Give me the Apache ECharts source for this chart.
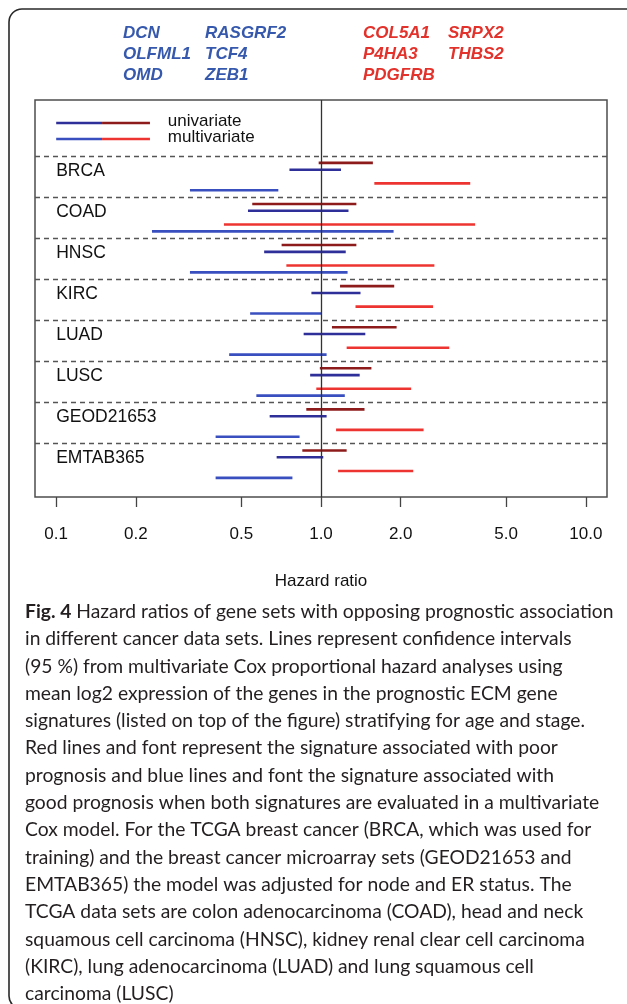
<!DOCTYPE html>
<html>
<head>
<meta charset="utf-8">
<script src="https://cdn.jsdelivr.net/npm/echarts@6/dist/echarts.min.js"></script>
<style>
  html, body { margin: 0; padding: 0; background: #ffffff; }
  #chart { width: 627px; height: 1004px; }
</style>
</head>
<body>
<div id="chart"></div>
<script>
// Cancer data sets, top to bottom
const datasets = ['BRCA', 'COAD', 'HNSC', 'KIRC', 'LUAD', 'LUSC', 'GEOD21653', 'EMTAB365'];

// 95 % confidence intervals of the hazard ratio, [lower, upper]
const uniPoor   = [[0.98, 1.57], [0.55, 1.36], [0.71, 1.36], [1.18, 1.89], [1.10, 1.93], [0.99, 1.55], [0.88, 1.46], [0.85, 1.25]];
const uniGood   = [[0.76, 1.19], [0.53, 1.27], [0.61, 1.24], [0.92, 1.41], [0.86, 1.47], [0.91, 1.40], [0.64, 1.05], [0.68, 1.02]];
const multiPoor = [[1.59, 3.66], [0.43, 3.82], [0.74, 2.68], [1.35, 2.65], [1.25, 3.05], [0.96, 2.19], [1.14, 2.44], [1.16, 2.23]];
const multiGood = [[0.32, 0.69], [0.23, 1.88], [0.32, 1.26], [0.54, 1.00], [0.45, 1.05], [0.57, 1.23], [0.40, 0.83], [0.40, 0.78]];

// Hazard-ratio axis ticks
const tickValues = [0.1, 0.2, 0.5, 1, 2, 5, 10];
const tickLabels = ['0.1', '0.2', '0.5', '1.0', '2.0', '5.0', '10.0'];

// Gene signatures
const goodGenes = [['DCN', 'RASGRF2'], ['OLFML1', 'TCF4'], ['OMD', 'ZEB1']];
const poorGenes = [['COL5A1', 'SRPX2'], ['P4HA3', 'THBS2'], ['PDGFRB']];

const legendLabels = ['univariate', 'multivariate'];

const captionLines = [
  '{b|Fig. 4} Hazard ratios of gene sets with opposing prognostic association',
  'in different cancer data sets. Lines represent confidence intervals',
  '(95 %) from multivariate Cox proportional hazard analyses using',
  'mean log2 expression of the genes in the prognostic ECM gene',
  'signatures (listed on top of the figure) stratifying for age and stage.',
  'Red lines and font represent the signature associated with poor',
  'prognosis and blue lines and font the signature associated with',
  'good prognosis when both signatures are evaluated in a multivariate',
  'Cox model. For the TCGA breast cancer (BRCA, which was used for',
  'training) and the breast cancer microarray sets (GEOD21653 and',
  'EMTAB365) the model was adjusted for node and ER status. The',
  'TCGA data sets are colon adenocarcinoma (COAD), head and neck',
  'squamous cell carcinoma (HNSC), kidney renal clear cell carcinoma',
  '(KIRC), lung adenocarcinoma (LUAD) and lung squamous cell',
  'carcinoma (LUSC)'
];

// ---- styling ----
const COL = {
  uniPoor: '#8e1b1b',
  uniGood: '#2f2f9a',
  multiPoor: '#ee3431',
  multiGood: '#3a4fbf',
  geneGood: '#3659ad',
  genePoor: '#e2322b'
};
const lineColors = [COL.uniPoor, COL.uniGood, COL.multiPoor, COL.multiGood];
const FONT = '"Liberation Sans", Arial, Helvetica, sans-serif';
const CAPTION_FONT = 'Lato, "Noto Sans", sans-serif';
const CAPTION_SIZE = 19.3;

// Each data set takes six rows: separator, univariate poor, univariate good,
// spacer, multivariate poor, multivariate good.
const ROWS = 6;
const Y_MIN = -8.18, Y_MAX = 49.8;

const intervals = [];
datasets.forEach((_, i) => {
  const base = i * ROWS;
  intervals.push([uniPoor[i][0], uniPoor[i][1], base + 1, 0]);
  intervals.push([uniGood[i][0], uniGood[i][1], base + 2, 1]);
  intervals.push([multiPoor[i][0], multiPoor[i][1], base + 4, 2]);
  intervals.push([multiGood[i][0], multiGood[i][1], base + 5, 3]);
});

// legend rows: x start, colour switch, x end, row, text x
const legendRows = [
  [0.1, 0.149, 0.226, -4.82, 0.264],
  [0.1, 0.149, 0.226, -2.48, 0.264]
];
const legendColors = [[COL.uniGood, COL.uniPoor], [COL.multiGood, COL.multiPoor]];

const labelRows = datasets.map((_, i) => [0.1, i * ROWS + 2.2]);

function nearestTickLabel(v) {
  let best = 0;
  tickValues.forEach((t, k) => {
    if (Math.abs(Math.log(t) - Math.log(v)) < Math.abs(Math.log(tickValues[best]) - Math.log(v))) best = k;
  });
  return tickLabels[best];
}

// ---- graphic elements: frame, gene lists, caption ----
const graphics = [];
graphics.push({
  type: 'rect', z: 0,
  shape: { x: 9, y: 9, width: 630, height: 1000, r: 13 },
  style: { fill: 'none', stroke: '#2a2a2a', lineWidth: 1.6 }
});
const geneRowY = [33, 54, 75];
const goodCols = [123, 205];
const poorCols = [363, 448];
function addGenes(list, cols, color) {
  list.forEach((row, r) => row.forEach((g, c) => {
    graphics.push({
      type: 'text', x: cols[c], y: geneRowY[r],
      style: {
        text: g, fill: color, font: 'italic bold 17px ' + FONT,
        textAlign: 'left', textVerticalAlign: 'middle'
      }
    });
  }));
}
addGenes(goodGenes, goodCols, COL.geneGood);
addGenes(poorGenes, poorCols, COL.genePoor);

captionLines.forEach((line, k) => {
  graphics.push({
    type: 'text', x: 25, y: 611.7 + k * 27.3,
    style: {
      text: line, fill: '#231f20',
      fontFamily: CAPTION_FONT, fontSize: CAPTION_SIZE,
      textAlign: 'left', textVerticalAlign: 'middle',
      rich: { b: { fontFamily: CAPTION_FONT, fontSize: CAPTION_SIZE, fontWeight: 'bold', fill: '#231f20' } }
    }
  });
});

const chart = echarts.init(document.getElementById('chart'), null, { renderer: 'canvas' });

chart.setOption({
  animation: false,
  backgroundColor: '#ffffff',
  grid: {
    left: 35, right: 20, top: 100, bottom: 507,
    show: true, borderColor: '#4d4d4d', borderWidth: 1.5, backgroundColor: 'transparent'
  },
  xAxis: {
    type: 'log', logBase: 10,
    min: Math.pow(10, -1.08), max: Math.pow(10, 1.08),
    splitLine: { show: false },
    axisLine: { show: false, onZero: false },
    axisTick: { show: true, customValues: tickValues, length: 10, lineStyle: { color: '#444', width: 1.3 } },
    axisLabel: {
      show: true, customValues: tickValues, margin: 29,
      fontFamily: FONT, fontSize: 17, color: '#111',
      formatter: v => nearestTickLabel(v)
    },
    name: 'Hazard ratio', nameLocation: 'middle', nameGap: 76,
    nameTextStyle: { fontFamily: FONT, fontSize: 17, color: '#111' }
  },
  yAxis: {
    type: 'value', inverse: true, min: Y_MIN, max: Y_MAX, show: false
  },
  graphic: graphics,
  series: [
    {
      type: 'custom', name: 'intervals', silent: true,
      data: intervals,
      encode: { x: [0, 1], y: 2 },
      renderItem(params, api) {
        const y = api.value(2);
        const a = api.coord([api.value(0), y]);
        const b = api.coord([api.value(1), y]);
        return {
          type: 'line',
          shape: { x1: a[0], y1: a[1], x2: b[0], y2: b[1] },
          style: { stroke: lineColors[api.value(3)], lineWidth: 2.6, lineCap: 'butt' }
        };
      },
      markLine: {
        silent: true, symbol: 'none', animation: false,
        label: { show: false },
        data: datasets.map((_, i) => ({
          yAxis: i * ROWS,
          lineStyle: { type: [5, 4], color: '#555', width: 1.4 }
        })).concat([{ xAxis: 1, lineStyle: { type: 'solid', color: '#333', width: 1.3 } }])
      }
    },
    {
      type: 'custom', name: 'legend', silent: true,
      data: legendRows,
      encode: { x: [0, 1, 2], y: 3 },
      renderItem(params, api) {
        const y = api.value(3);
        const p0 = api.coord([api.value(0), y]);
        const p1 = api.coord([api.value(1), y]);
        const p2 = api.coord([api.value(2), y]);
        const pt = api.coord([api.value(4), y]);
        const cols = legendColors[params.dataIndex];
        return {
          type: 'group',
          children: [
            { type: 'line', shape: { x1: p0[0], y1: p0[1], x2: p1[0], y2: p1[1] },
              style: { stroke: cols[0], lineWidth: 2.6 } },
            { type: 'line', shape: { x1: p1[0], y1: p1[1], x2: p2[0], y2: p2[1] },
              style: { stroke: cols[1], lineWidth: 2.6 } },
            { type: 'text', x: pt[0], y: pt[1] - 2,
              style: { text: legendLabels[params.dataIndex], font: '17px ' + FONT, fill: '#111',
                       textAlign: 'left', textVerticalAlign: 'middle' } }
          ]
        };
      }
    },
    {
      type: 'custom', name: 'set labels', silent: true,
      data: labelRows,
      encode: { x: 0, y: 1 },
      renderItem(params, api) {
        const p = api.coord([api.value(0), api.value(1)]);
        return {
          type: 'text', x: p[0], y: p[1],
          style: { text: datasets[params.dataIndex], font: '17.5px ' + FONT, fill: '#111',
                   textAlign: 'left', textVerticalAlign: 'middle' }
        };
      }
    }
  ]
});
</script>
</body>
</html>
